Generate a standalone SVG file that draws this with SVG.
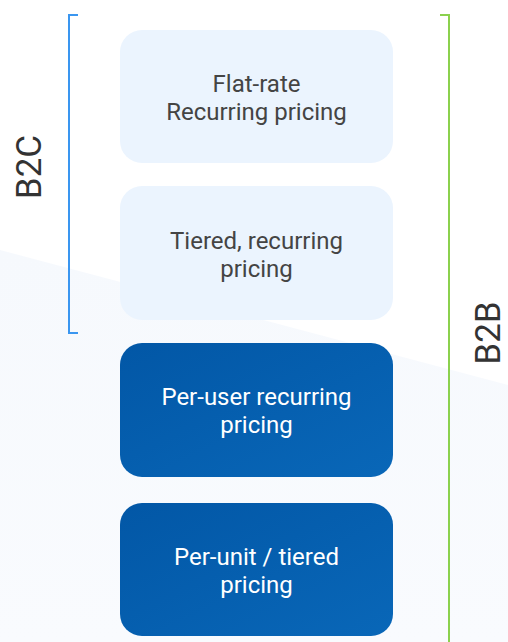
<svg xmlns="http://www.w3.org/2000/svg" width="508" height="642" viewBox="0 0 508 642">
<style>
.lbl{font-family:Roboto,"Liberation Sans",sans-serif;font-size:24px;text-anchor:middle}
.light rect{fill:#ebf4fe}
.light text{fill:#444444}
.dark rect{fill:url(#dg)}
.dark text{fill:#ffffff}
.side{font-family:Roboto,"Liberation Sans",sans-serif;font-size:35px;fill:#333333;text-anchor:middle}
.br{fill:none;stroke-width:2}
</style>
<defs>
<linearGradient id="dg" x1="0" y1="0" x2="1" y2="1">
<stop offset="0" stop-color="#0257a6"/>
<stop offset="1" stop-color="#0967b8"/>
</linearGradient>
<linearGradient id="bg" x1="0" y1="0" x2="0" y2="1">
<stop offset="0" stop-color="#f6f9fd"/>
<stop offset="1" stop-color="#f9fbfe"/>
</linearGradient>
</defs>
<rect width="508" height="642" fill="#ffffff"/>
<polygon points="0,250 508,385 508,642 0,642" fill="url(#bg)"/>
<g id="connectors">
<path class="br" stroke="#3a96f0" d="M78,15 H69 V333 H78"/>
<path class="br" stroke="#8bd14e" d="M440,15 H449 V642"/>
</g>
<g id="b2c"><text class="side" transform="translate(41,167) rotate(-90)">B2C</text></g>
<g id="b2b"><text class="side" transform="translate(499.5,333) rotate(-90)">B2B</text></g>
<g id="flat" class="light">
<rect x="120" y="30" width="273" height="133" rx="22"/>
<text class="lbl" x="256.5" y="92">Flat-rate</text>
<text class="lbl" x="256.5" y="120">Recurring pricing</text>
</g>
<g id="tiered" class="light">
<rect x="120" y="186" width="273" height="134" rx="22"/>
<text class="lbl" x="256.5" y="249">Tiered, recurring</text>
<text class="lbl" x="256.5" y="277">pricing</text>
</g>
<g id="peruser" class="dark">
<rect x="120" y="343" width="273" height="134" rx="22"/>
<text class="lbl" x="256.5" y="405">Per-user recurring</text>
<text class="lbl" x="256.5" y="433">pricing</text>
</g>
<g id="perunit" class="dark">
<rect x="120" y="503" width="273" height="133" rx="22"/>
<text class="lbl" x="256.5" y="565">Per-unit / tiered</text>
<text class="lbl" x="256.5" y="593">pricing</text>
</g>
</svg>
